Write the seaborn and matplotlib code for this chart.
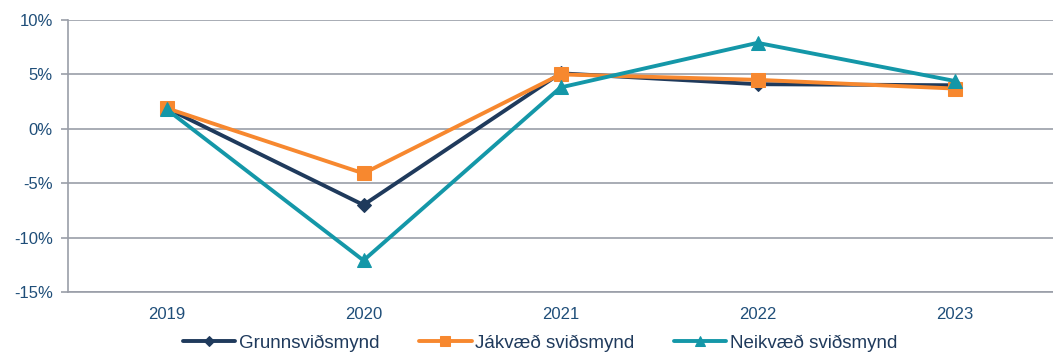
import pandas as pd
import matplotlib.pyplot as plt
import seaborn as sns
from matplotlib.ticker import FuncFormatter

# values (percent)
years = ["2019", "2020", "2021", "2022", "2023"]
grunn = [1.9, -7.0, 5.1, 4.1, 4.0]
jakvaed = [1.9, -4.1, 5.0, 4.5, 3.7]
neikvaed = [1.8, -12.1, 3.8, 7.9, 4.4]

series_names = ["Grunnsviðsmynd", "Jákvæð sviðsmynd", "Neikvæð sviðsmynd"]
colors = ["#1F3A5C", "#F7882F", "#1497A8"]
markers = ["D", "s", "^"]
marker_sizes = [7, 10, 10]

df = pd.DataFrame({"Ár": years * 3,
                   "Gildi": grunn + jakvaed + neikvaed,
                   "Sviðsmynd": [n for n in series_names for _ in years]})

sns.set_style("white")
plt.rcParams['font.family'] = ['Liberation Sans', 'DejaVu Sans']
text_color = "#1F4E79"
grid_color = "#9A9EA8"

fig = plt.figure(figsize=(10.53, 3.53), dpi=100)
ax = fig.add_axes([68 / 1053, 61 / 353, 1 - 68 / 1053, 272 / 353])

for name, c, m, ms in zip(series_names, colors, markers, marker_sizes):
    sub = df[df["Sviðsmynd"] == name]
    sns.lineplot(data=sub, x="Ár", y="Gildi", ax=ax, color=c, marker=m,
                 markersize=ms, markeredgecolor=c, linewidth=2.8, label=name, sort=False)

ax.set_xlim(-0.5, 4.5)
ax.set_ylim(-15, 10)
ax.set_yticks([-15, -10, -5, 0, 5, 10])
ax.yaxis.set_major_formatter(FuncFormatter(lambda v, p: f"{v:.0f}%"))
ax.grid(axis='y', color=grid_color, linewidth=1.2)
ax.set_axisbelow(True)
for s in ["top", "right"]:
    ax.spines[s].set_visible(False)
for s in ["left", "bottom"]:
    ax.spines[s].set_color(grid_color)
    ax.spines[s].set_linewidth(1.2)
ax.tick_params(axis='y', which='both', length=5, width=1.2, color=grid_color,
               labelsize=12, labelcolor=text_color, pad=6, left=True)
ax.tick_params(axis='x', length=0, labelsize=12, labelcolor=text_color, pad=11)
ax.set_xlabel("")
ax.set_ylabel("")

handles, labels = ax.get_legend_handles_labels()
ax.get_legend().remove()
leg = fig.legend(handles, labels, loc="center", bbox_to_anchor=(0.513, 10 / 353), ncol=3,
                 frameon=False, fontsize=13.5, handlelength=2.8, handletextpad=0.2,
                 columnspacing=2.1, borderaxespad=0, borderpad=0, markerscale=0.75)
for t in leg.get_texts():
    t.set_color("#1F3A5C")

fig.savefig("out.png", dpi=100)
